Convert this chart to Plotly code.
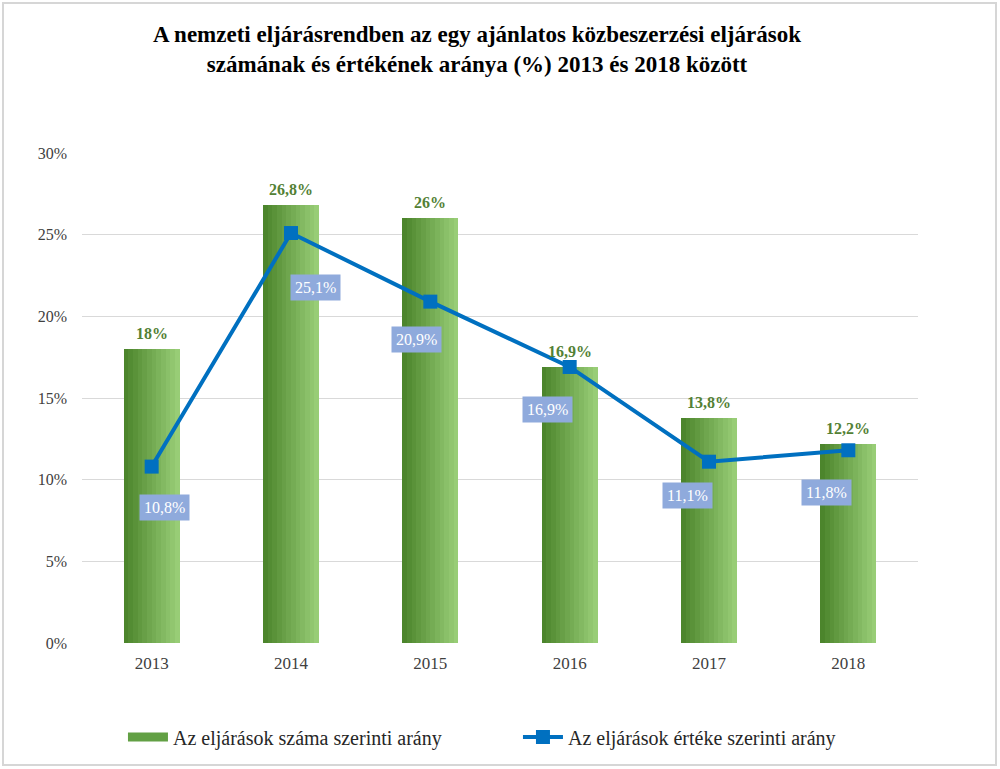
import plotly.graph_objects as go

years = ["2013", "2014", "2015", "2016", "2017", "2018"]
count_share = [18.0, 26.8, 26.0, 16.9, 13.8, 12.2]
count_labels = ["18%", "26,8%", "26%", "16,9%", "13,8%", "12,2%"]
value_share = [10.8, 25.1, 20.9, 16.9, 11.1, 11.8]
value_labels = ["10,8%", "25,1%", "20,9%", "16,9%", "11,1%", "11,8%"]
y_ticks = [0, 5, 10, 15, 20, 25, 30]
y_tick_labels = ["0%", "5%", "10%", "15%", "20%", "25%", "30%"]

# label offsets (px) for the blue value labels
label_dx = [13, 24, -14, -22, -22, -22]
label_dy = [-41, -54, -38, -43, -34, -42]

FONT = "Palatino Linotype, Book Antiqua, Liberation Serif, serif"
xpos = list(range(len(years)))

fig = go.Figure()

# gradient-like bars via vertical strips
N = 12
bw = 0.4
c0 = (0x4c, 0x85, 0x2c)
c1 = (0x98, 0xcd, 0x76)
for i in range(N):
    t = i / (N - 1)
    col = "rgb(%d,%d,%d)" % tuple(round(a + (b - a) * t) for a, b in zip(c0, c1))
    fig.add_trace(go.Bar(
        x=xpos, y=count_share, width=bw / N + 0.002,
        offset=-bw / 2 + i * bw / N,
        marker=dict(color=col, line=dict(width=0)),
        showlegend=False, hoverinfo="skip",
    ))

# legend proxy for bars (wide swatch)
fig.add_trace(go.Scatter(
    x=xpos, y=[None] * len(years), mode="lines",
    name="Az eljárások száma szerinti arány",
    line=dict(color="#62a044", width=9), showlegend=True,
))

# bar labels
for x, y, lab in zip(xpos, count_share, count_labels):
    fig.add_annotation(
        x=x, y=y, text=lab, showarrow=False, yanchor="bottom", yshift=5,
        font=dict(family=FONT, size=16, color="#538135", weight="bold"),
    )

# line
fig.add_trace(go.Scatter(
    x=xpos, y=value_share, mode="lines+markers",
    name="Az eljárások értéke szerinti arány",
    line=dict(color="#0070c0", width=4),
    marker=dict(symbol="square", size=14, color="#0070c0"),
))

for x, y, lab, dx, dy in zip(xpos, value_share, value_labels, label_dx, label_dy):
    fig.add_annotation(
        x=x, y=y, text=lab, showarrow=False, xshift=dx, yshift=dy,
        bgcolor="#8faadc", borderpad=4,
        font=dict(family=FONT, size=16, color="white"),
    )

L, R, T, B = 82, 82, 153, 126
W, H = 1000, 769
pw, ph = W - L - R, H - T - B
fig.add_shape(
    type="rect", xref="paper", yref="paper",
    x0=(3 - L) / pw, x1=(996 - L) / pw,
    y0=(H - B - 765) / ph, y1=(H - B - 3) / ph,
    line=dict(color="#d6d6d6", width=2), fillcolor="rgba(0,0,0,0)", layer="below",
)

fig.update_layout(
    width=W, height=H,
    margin=dict(l=L, r=R, t=T, b=B),
    paper_bgcolor="white", plot_bgcolor="white",
    barmode="overlay", bargap=0,
    title=dict(
        text="A nemzeti eljárásrendben az egy ajánlatos közbeszerzési eljárások<br>számának és értékének aránya (%) 2013 és 2018 között",
        x=0.477, xanchor="center", y=0.945, yanchor="middle",
        font=dict(family=FONT, size=23, color="black", weight="bold"),
    ),
    font=dict(family=FONT, size=15, color="#404040"),
    xaxis=dict(
        range=[-0.5, 5.5], tickvals=xpos, ticktext=years,
        showgrid=False, showline=False, zeroline=False, ticks="",
        ticklabelstandoff=8,
        tickfont=dict(family=FONT, size=17, color="#404040"),
    ),
    yaxis=dict(
        range=[0, 30], tickvals=y_ticks, ticktext=y_tick_labels,
        showgrid=True, gridcolor="#d9d9d9", gridwidth=1,
        zeroline=False, showline=False, ticks="", ticklabelstandoff=14,
        tickfont=dict(family=FONT, size=16, color="#404040"),
    ),
    legend=dict(
        orientation="h", x=0.049, xanchor="left", y=-0.192, yanchor="middle",
        font=dict(family=FONT, size=20, color="#262626"),
        entrywidth=340, entrywidthmode="pixels", itemwidth=40,
    ),
    showlegend=True,
)

fig.write_html("out.html")
